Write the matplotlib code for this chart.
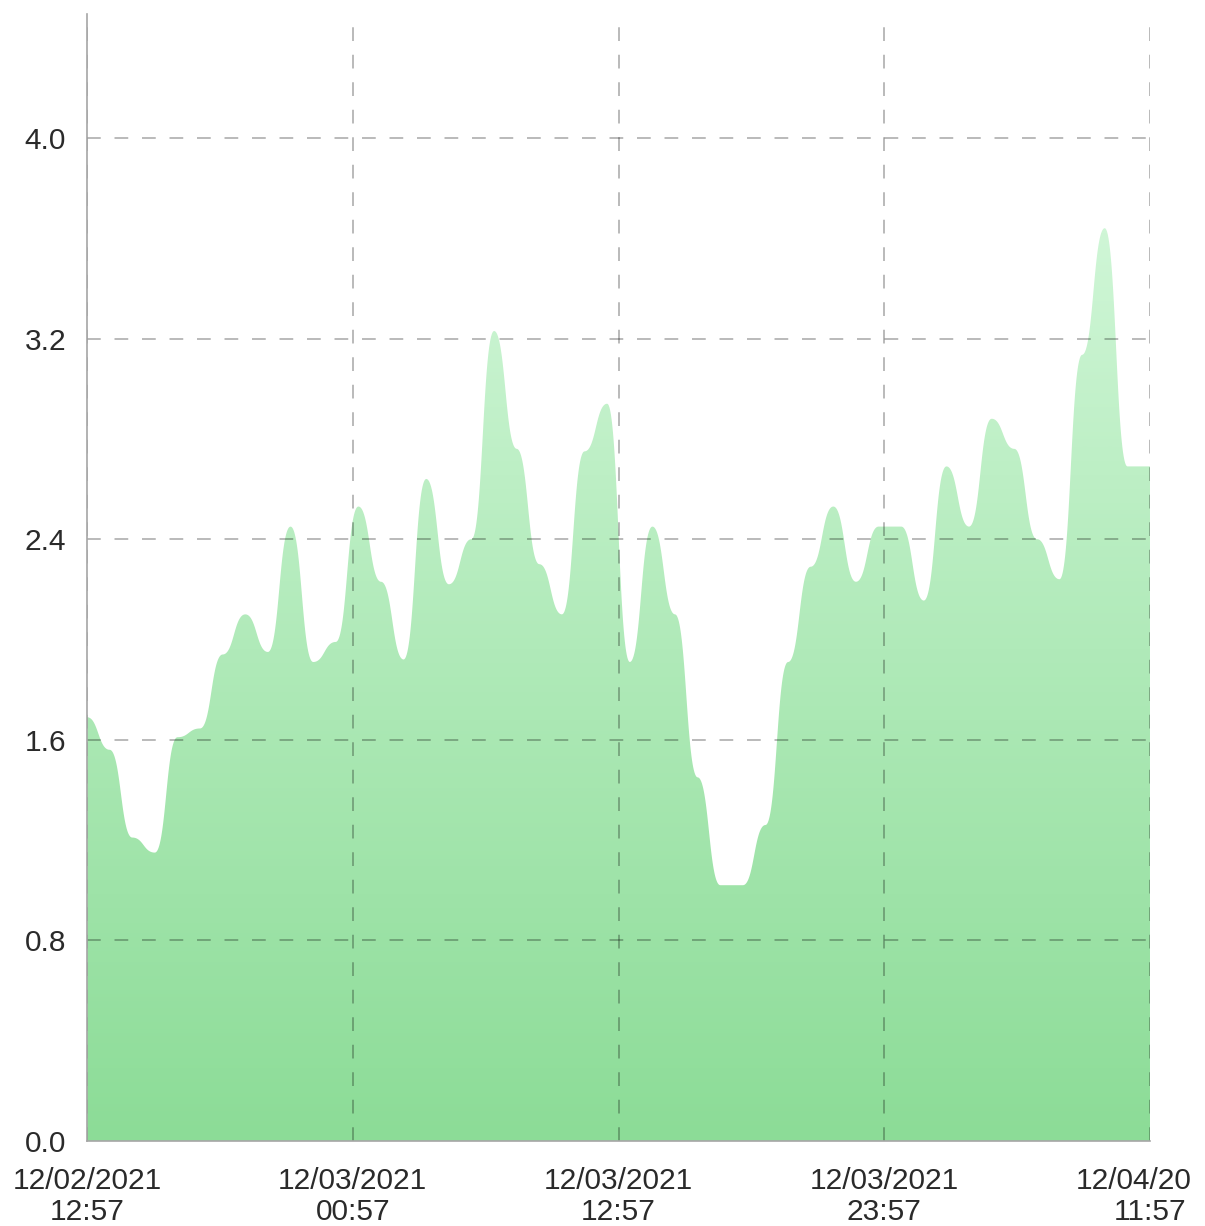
import numpy as np
import matplotlib
matplotlib.use("Agg")
import matplotlib.pyplot as plt
from matplotlib.colors import LinearSegmentedColormap
from matplotlib.patches import Polygon, Rectangle

# ---- data (hourly samples, hours since 12/02/2021 12:57) ----
hours = list(range(48))
values = [1.69, 1.56, 1.21, 1.15, 1.61, 1.645, 1.94, 2.10, 1.95, 2.45,
          1.91, 1.99, 2.53, 2.23, 1.92, 2.64, 2.22, 2.40, 3.23, 2.76,
          2.30, 2.10, 2.75, 2.94, 1.91, 2.45, 2.10, 1.45, 1.02, 1.02,
          1.26, 1.91, 2.29, 2.53, 2.23, 2.45, 2.45, 2.155, 2.69, 2.45,
          2.88, 2.76, 2.40, 2.24, 3.135, 3.64, 2.69, 2.69]
x_tick_pos = [0, 11.75, 23.5, 35.25, 47]
x_tick_labels = ["12/02/2021\n12:57", "12/03/2021\n00:57", "12/03/2021\n12:57",
                 "12/03/2021\n23:57", "12/04/2021\n11:57"]
y_ticks = [0.0, 0.8, 1.6, 2.4, 3.2, 4.0]
y_tick_labels = ["0.0", "0.8", "1.6", "2.4", "3.2", "4.0"]


def bump_x(x, y, n=40):
    """Bezier through points with horizontal tangents at each point (d3 curveBumpX)."""
    x = np.asarray(x, float)
    y = np.asarray(y, float)
    xs, ys = [], []
    for i in range(len(x) - 1):
        u = np.linspace(0, 1, n, endpoint=(i == len(x) - 2))
        xm = (x[i] + x[i + 1]) / 2
        p0 = (x[i], y[i])
        p1 = (xm, y[i])
        p2 = (xm, y[i + 1])
        p3 = (x[i + 1], y[i + 1])
        b = [(1 - u) ** 3, 3 * u * (1 - u) ** 2, 3 * u ** 2 * (1 - u), u ** 3]
        xs.append(b[0] * p0[0] + b[1] * p1[0] + b[2] * p2[0] + b[3] * p3[0])
        ys.append(b[0] * p0[1] + b[1] * p1[1] + b[2] * p2[1] + b[3] * p3[1])
    return np.concatenate(xs), np.concatenate(ys)


plt.rcParams["font.family"] = ["Liberation Sans", "DejaVu Sans"]

W, H = 1205, 1226
fig = plt.figure(figsize=(W / 100, H / 100), dpi=100)
ax = fig.add_axes([87 / W, 85 / H, (1150 - 87) / W, 1127 / H])

xs, ys = bump_x(hours, values)
ymax = 4.494

# gradient fill clipped to area
top = max(values)
cmap = LinearSegmentedColormap.from_list("g", ["#8cdc97", "#cff6d6"])
grad = np.linspace(0, 1, 256).reshape(-1, 1)
im = ax.imshow(grad, cmap=cmap, aspect="auto", origin="lower",
               extent=[0, 47, 0, top], zorder=1, interpolation="bilinear")
poly_pts = np.column_stack([np.r_[xs, xs[-1], xs[0]], np.r_[ys, 0, 0]])
poly = Polygon(poly_pts, closed=True, facecolor="none", edgecolor="none")
ax.add_patch(poly)
im.set_clip_path(poly)
ax.set_xlim(0, 47)
ax.set_ylim(0, ymax)

# grid
dash = (0, (9, 9))
for xv in x_tick_pos:
    ax.axvline(xv, color="black", alpha=0.35, lw=1.1, linestyle=dash, zorder=3)
for yv in y_ticks[1:]:
    ax.axhline(yv, color="black", alpha=0.35, lw=1.1, linestyle=dash, zorder=3)

for side in ["top", "right"]:
    ax.spines[side].set_visible(False)
for side in ["left", "bottom"]:
    ax.spines[side].set_color("#a6a6a6")
    ax.spines[side].set_linewidth(1.2)
    ax.spines[side].set_zorder(4)

ax.set_yticks(y_ticks)
ax.set_yticklabels(y_tick_labels)
ax.set_xticks(x_tick_pos)
ax.set_xticklabels(x_tick_labels, linespacing=1.1)
ax.tick_params(axis="y", length=0, pad=15, labelsize=21.5, labelcolor="#2a2a2a")
ax.tick_params(axis="x", length=0, pad=19, labelsize=21.5, labelcolor="#2a2a2a")

# the last label is cut at the chart's right edge
fig.patches.append(Rectangle((1190 / W, 0), 15 / W, 85 / H, transform=fig.transFigure,
                             facecolor="white", edgecolor="none", zorder=10))

fig.savefig("out.png", dpi=100)
